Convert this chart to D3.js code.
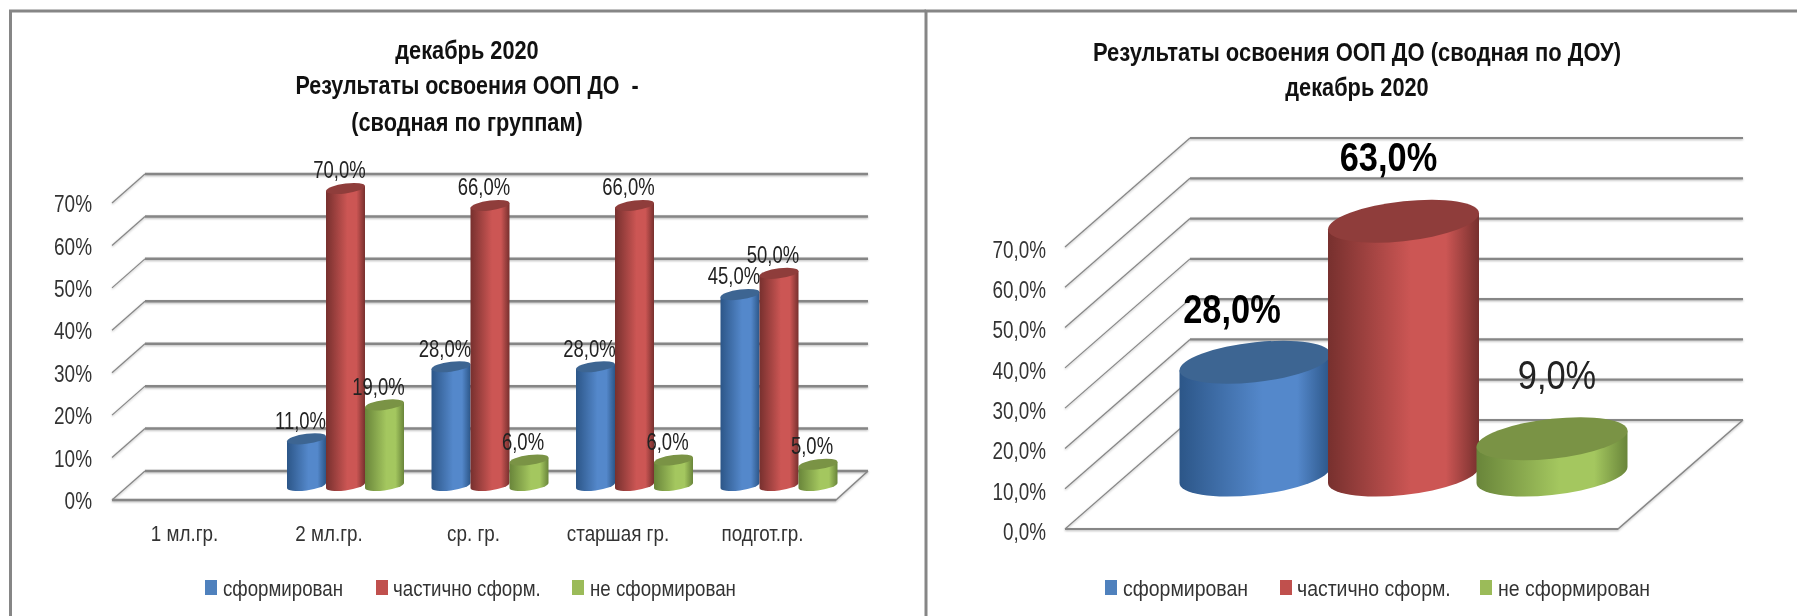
<!DOCTYPE html>
<html>
<head>
<meta charset="utf-8">
<script src="https://cdn.jsdelivr.net/npm/d3@7"></script>
<style>
  html, body { margin:0; padding:0; background:#fff; }
  svg { display:block; filter: blur(0.45px); }
  text { font-family:"Liberation Sans", sans-serif; white-space:pre; }
</style>
</head>
<body>
<svg id="chart" width="1797" height="616"></svg>
<script>
  var seriesNames = ['сформирован', 'частично сформ.', 'не сформирован'];

  var groupTitle = ['декабрь 2020', 'Результаты освоения ООП ДО  -', '(сводная по группам)'];
  var groupCategories = ['1 мл.гр.', '2 мл.гр.', 'ср. гр.', 'старшая гр.', 'подгот.гр.'];
  var groupFormed = [null, 11, 28, 28, 45];
  var groupPartial = [null, 70, 66, 66, 50];
  var groupNotFormed = [null, 19, 6, 6, 5];
  var groupTicks = [0, 10, 20, 30, 40, 50, 60, 70];

  var totalTitle = ['Результаты освоения ООП ДО (сводная по ДОУ)', 'декабрь 2020'];
  var totalValues = [28, 63, 9];
  var totalTicks = [0, 10, 20, 30, 40, 50, 60, 70];

  var colors = [
    { edge:'#2c5688', mid:'#5488cb', top:'#3d6592', flat:'#4f81bd' },
    { edge:'#77302e', mid:'#cc5654', top:'#8f3d3b', flat:'#c0504d' },
    { edge:'#69853a', mid:'#a4c75f', top:'#7a9345', flat:'#9bbb59' }
  ];

  var svg = d3.select('#chart');
  var defs = svg.append('defs');

  colors.forEach(function(c, i) {
    var grad = defs.append('linearGradient').attr('id', 'cyl' + i);
    grad.append('stop').attr('offset', '0%').attr('stop-color', c.edge);
    grad.append('stop').attr('offset', '55%').attr('stop-color', c.mid);
    grad.append('stop').attr('offset', '78%').attr('stop-color', c.mid);
    grad.append('stop').attr('offset', '100%').attr('stop-color', c.edge);
  });

  // text is stretched tall in the picture, so every label gets its own x squeeze
  function label(parent, str, x, y, size, squeeze, weight, fill, anchor) {
    return parent.append('text')
      .attr('transform', 'translate(' + x + ',' + y + ') scale(' + squeeze + ',1)')
      .attr('dy', '.35em')
      .attr('font-size', size)
      .attr('font-weight', weight)
      .attr('fill', fill)
      .attr('text-anchor', anchor)
      .text(str);
  }

  // back wall lines, side lines and floor of the fake 3d box
  function drawBox(g, yScale, ticks, box, width) {
    var wall = g.append('g').style('filter', 'drop-shadow(0 1.5px 1px rgba(0,0,0,.28))');
    ticks.forEach(function(t) {
      wall.append('line')
        .attr('x1', box.left + box.dx).attr('y1', yScale(t) - box.dy)
        .attr('x2', box.wallRight).attr('y2', yScale(t) - box.dy)
        .attr('stroke', '#868686').attr('stroke-width', width);
      wall.append('line')
        .attr('x1', box.left).attr('y1', yScale(t))
        .attr('x2', box.left + box.dx).attr('y2', yScale(t) - box.dy)
        .attr('stroke', '#868686').attr('stroke-width', 1.2);
    });
    wall.append('path')
      .attr('d', d3.line()([
        [box.left, yScale(0)],
        [box.right, yScale(0)],
        [box.wallRight, yScale(0) - box.dy]
      ]))
      .attr('fill', 'none')
      .attr('stroke', '#868686')
      .attr('stroke-width', 1.5);
    wall.append('line')
      .attr('x1', box.left).attr('y1', yScale(0))
      .attr('x2', box.right).attr('y2', yScale(0))
      .attr('stroke', '#868686').attr('stroke-width', width);
  }

  function cylinder(g, cx, baseY, h, rx, ry, skew, i) {
    var cyl = g.append('g')
      .attr('transform', 'translate(' + cx + ',' + baseY + ') skewY(' + skew + ')');
    cyl.append('path')
      .attr('d', 'M' + (-rx) + ',' + (-h) + 'L' + (-rx) + ',0A' + rx + ',' + ry + ' 0 0 0 ' + rx + ',0L' + rx + ',' + (-h) + 'Z')
      .attr('fill', 'url(#cyl' + i + ')');
    cyl.append('ellipse')
      .attr('cx', 0).attr('cy', -h)
      .attr('rx', rx).attr('ry', ry)
      .attr('fill', colors[i].top);
  }

  function legend(g, items) {
    items.forEach(function(d, i) {
      g.append('rect')
        .attr('x', d.box).attr('y', 580)
        .attr('width', 12).attr('height', 15)
        .attr('fill', colors[i].flat);
      label(g, seriesNames[i], d.text, 588, 22, d.squeeze, 'normal', '#333', 'start');
    });
  }

  function drawGroupChart() {
    var g = svg.append('g');

    var yScale = d3.scaleLinear().domain([0, 70]).range([500, 203]);
    var xScale = d3.scalePoint().domain(groupCategories).range([184, 762]);
    var box = { left:112, right:836, wallRight:868, dx:33, dy:29 };

    drawBox(g, yScale, groupTicks, box, 2.5);

    var yAxis = d3.axisLeft(yScale).tickValues(groupTicks).tickSize(0).tickPadding(0)
      .tickFormat(function(d) { return d + '%'; });
    var yg = g.append('g').attr('transform', 'translate(92,1)').call(yAxis);
    yg.select('.domain').remove();
    yg.selectAll('text')
      .attr('font-size', 24).attr('fill', '#333')
      .attr('transform', 'scale(0.79,1)');

    var xAxis = d3.axisBottom(xScale).tickSize(0).tickPadding(0);
    var xg = g.append('g').attr('transform', 'translate(0,533)').call(xAxis);
    xg.select('.domain').remove();
    xg.selectAll('text')
      .attr('font-size', 22).attr('dy', '.35em').attr('y', 0).attr('fill', '#333')
      .attr('transform', 'scale(0.857,1)');

    var series = [groupFormed, groupPartial, groupNotFormed];
    var baseY = yScale(0) - 14.5;
    var h = yScale(0) - yScale(1);

    groupCategories.forEach(function(c, k) {
      series.forEach(function(values, i) {
        if (values[k] === null) return;
        var cx = xScale(c) + 17 + (i - 1) * 39;
        var len = values[k] * h;
        cylinder(g, cx, baseY, len, 19.5, 5, -7, i);
      });
    });
    groupCategories.forEach(function(c, k) {
      series.forEach(function(values, i) {
        if (values[k] === null) return;
        var cx = xScale(c) + 17 + (i - 1) * 39;
        var len = values[k] * h;
        label(g, d3.format('.1f')(values[k]).replace('.', ',') + '%', cx - 6, baseY - len - 18.5, 24, 0.77, 'normal', '#222', 'middle');
      });
    });

    label(g, groupTitle[0], 467, 50, 25, 0.87, 'bold', '#111', 'middle');
    label(g, groupTitle[1], 467, 85, 25, 0.86, 'bold', '#111', 'middle');
    label(g, groupTitle[2], 467, 122, 25, 0.87, 'bold', '#111', 'middle');

    legend(g, [
      { box:205, text:223, squeeze:0.85 },
      { box:376, text:393, squeeze:0.85 },
      { box:572, text:590, squeeze:0.85 }
    ]);
  }

  function drawTotalChart() {
    var g = svg.append('g');

    var yScale = d3.scaleLinear().domain([0, 70]).range([529, 247]);
    var box = { left:1065, right:1618, wallRight:1743, dx:125, dy:109 };

    drawBox(g, yScale, totalTicks, box, 2.2);

    var yAxis = d3.axisLeft(yScale).tickValues(totalTicks).tickSize(0).tickPadding(0)
      .tickFormat(function(d) { return d3.format('.1f')(d).replace('.', ',') + '%'; });
    var yg = g.append('g').attr('transform', 'translate(1046,3)').call(yAxis);
    yg.select('.domain').remove();
    yg.selectAll('text')
      .attr('font-size', 23).attr('fill', '#333')
      .attr('transform', 'scale(0.82,1)');

    var xScale = d3.scalePoint().domain(seriesNames).range([1255, 1552]);
    var baseY = 475;
    var h = yScale(0) - yScale(1);

    seriesNames.forEach(function(name, i) {
      cylinder(g, xScale(name), baseY, totalValues[i] * h, 75.5, 20, -6, i);
    });

    var tx = [-23, -15, 5];
    var ty = [-53, -64, -64];
    seriesNames.forEach(function(name, i) {
      var weight = i === 2 ? 'normal' : 'bold';
      label(g, d3.format('.1f')(totalValues[i]).replace('.', ',') + '%',
        xScale(name) + tx[i], baseY - totalValues[i] * h + ty[i],
        40, 0.86, weight, i === 2 ? '#222' : '#000', 'middle');
    });

    label(g, totalTitle[0], 1357, 52, 25, 0.88, 'bold', '#111', 'middle');
    label(g, totalTitle[1], 1357, 87, 25, 0.87, 'bold', '#111', 'middle');

    legend(g, [
      { box:1105, text:1123, squeeze:0.885 },
      { box:1280, text:1297, squeeze:0.885 },
      { box:1480, text:1498, squeeze:0.885 }
    ]);
  }

  // panel frames
  svg.append('path')
    .attr('d', 'M10.5,616V11H926')
    .attr('fill', 'none').attr('stroke', '#868686').attr('stroke-width', 3);
  svg.append('path')
    .attr('d', 'M926,616V11H1797')
    .attr('fill', 'none').attr('stroke', '#868686').attr('stroke-width', 3);

  drawGroupChart();
  drawTotalChart();
</script>
</body>
</html>
